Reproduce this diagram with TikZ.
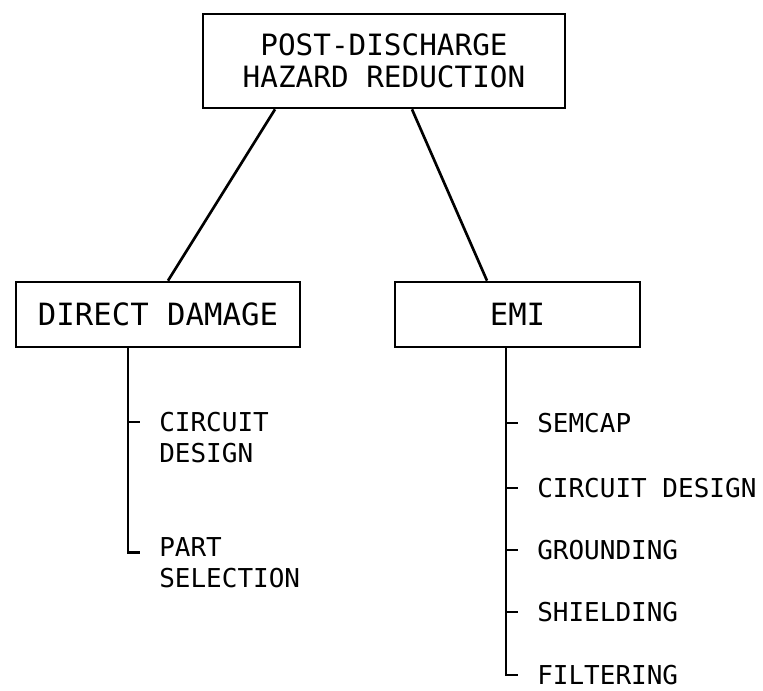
\documentclass[tikz,border=0pt]{standalone}
\usepackage{fontspec}
\setmonofont{DejaVu Sans Mono}
\usetikzlibrary{calc,positioning}

\begin{document}
\begin{tikzpicture}[x=0.75pt,y=-0.75pt,
box/.style={draw,line width=2pt,minimum height=48.75pt,align=center,inner sep=0pt,font=\ttfamily\fontsize{23}{24}\selectfont},
leaf/.style={anchor=west,align=left,inner sep=0pt,font=\ttfamily\fontsize{19.5}{23.3}\selectfont},
link/.style={line width=2pt}]
\useasboundingbox (0,0) rectangle (763,690);
% boxes
\node[box,minimum width=271.5pt,minimum height=70.5pt,font=\ttfamily\fontsize{22}{24}\selectfont] (top) at (384,61) {POST-DISCHARGE\\HAZARD REDUCTION};
\node[box,minimum width=213pt] (dd) at (158,314.5) {DIRECT DAMAGE};
\node[box,minimum width=183.75pt] (emi) at (517.5,314.5) {EMI};
\draw[link] ($(top.south)+(-109,0)$) -- ($(dd.north)+(10,0)$);
\draw[link] ($(top.south)+(28,0)$) -- ($(emi.north)+(-30.5,0)$);
% direct damage branch
\coordinate (ddstem) at ($(dd.south)+(-30,0)$);
\node[leaf] (cd) at (159,437.5) {CIRCUIT\\DESIGN};
\node[leaf] (ps) at (159,563) {PART\\SELECTION};
\coordinate (cd-t) at ([xshift=-14pt,yshift=11.6pt]cd.west);
\coordinate (ps-t) at ([xshift=-14pt,yshift=8pt]ps.west);
\draw[link] (ddstem) |- (ps-t);
\draw[link] (ddstem |- cd-t) -- (cd-t);
% emi branch
\coordinate (emistem) at ($(emi.south)+(-11.5,0)$);
\node[leaf] (sc) at (537,423) {SEMCAP};
\node[leaf] (ed) at (537,488) {CIRCUIT DESIGN};
\node[leaf] (gr) at (537,550) {GROUNDING};
\node[leaf] (sh) at (537,612) {SHIELDING};
\node[leaf] (fi) at (537,675) {FILTERING};
\draw[link] (emistem) |- ([xshift=-14pt]fi.west);
\draw[link] (emistem |- sc.west) -- ([xshift=-14pt]sc.west);
\draw[link] (emistem |- ed.west) -- ([xshift=-14pt]ed.west);
\draw[link] (emistem |- gr.west) -- ([xshift=-14pt]gr.west);
\draw[link] (emistem |- sh.west) -- ([xshift=-14pt]sh.west);
\end{tikzpicture}
\end{document}
